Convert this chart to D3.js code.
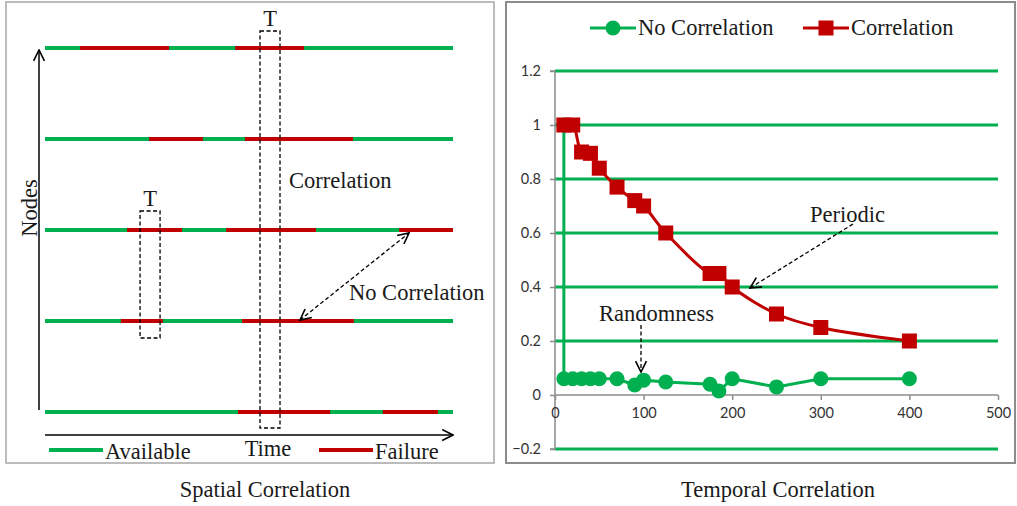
<!DOCTYPE html>
<html>
<head>
<meta charset="utf-8">
<script src="https://cdn.jsdelivr.net/npm/d3@7.9.0/dist/d3.min.js"></script>
<style>
  body { margin: 0; background: #fff; }
  svg { display: block; }
  .serif { font-family: "Liberation Serif", "Times New Roman", serif; font-size: 22.5px; fill: #1a1a1a; }
  .tick text { font-family: Lato, "Open Sans", sans-serif; font-size: 14.5px; fill: #333; }
</style>
</head>
<body>
<svg id="chart" width="1017" height="506"></svg>
<script>
// ---- left panel: node timelines (time in 0..100 units) ----
const nodes = [5, 4, 3, 2, 1];
const failures = [
  [[8.6, 30.4], [46.6, 63.5]],
  [[25.5, 38.7], [49, 75.5]],
  [[20.1, 33.6], [44.4, 66.4], [86.8, 100]],
  [[18.6, 28.9], [48.3, 75.7]],
  [[47.3, 69.9], [82.8, 96.3]]
];
const windowWide = [52.7, 57.6];
const windowSmall = [23.3, 28.2];

// ---- right panel: temporal correlation ----
const noCorrX = [10, 10, 20, 30, 40, 50, 70, 90, 100, 125, 175, 185, 200, 250, 300, 400];
const noCorrY = [1, 0.06, 0.06, 0.06, 0.06, 0.06, 0.06, 0.037, 0.055, 0.048, 0.04, 0.015, 0.06, 0.03, 0.06, 0.06];
const corrX = [10, 20, 30, 40, 50, 70, 90, 100, 125, 175, 185, 200, 250, 300, 400];
const corrY = [1, 1, 0.9, 0.895, 0.84, 0.77, 0.72, 0.70, 0.60, 0.45, 0.45, 0.40, 0.30, 0.25, 0.20];
const xTicks = [0, 100, 200, 300, 400, 500];
const yTicks = [-0.2, 0, 0.2, 0.4, 0.6, 0.8, 1, 1.2];

const GREEN = "#00b050", RED = "#c00000";
const svg = d3.select("#chart");

const defs = svg.append("defs");
defs.append("marker").attr("id", "chev").attr("viewBox", "0 0 12 12")
  .attr("refX", 11).attr("refY", 6).attr("markerWidth", 13).attr("markerHeight", 13)
  .attr("markerUnits", "userSpaceOnUse").attr("orient", "auto-start-reverse")
  .append("path").attr("d", "M1,1 L11,6 L1,11").attr("fill", "none")
  .attr("stroke", "#000").attr("stroke-width", 1.5);

// panel frames
svg.append("rect").attr("x", 6).attr("y", 2).attr("width", 488).attr("height", 461)
  .attr("fill", "none").attr("stroke", "#a6a6a6").attr("stroke-width", 1.5);
svg.append("rect").attr("x", 506).attr("y", 2).attr("width", 509).attr("height", 461)
  .attr("fill", "none").attr("stroke", "#8c8c8c").attr("stroke-width", 2);

// ---------- LEFT ----------
const t = d3.scaleLinear().domain([0, 100]).range([45, 453]);
const ny = d3.scalePoint().domain(nodes).range([48, 412]);
const L = svg.append("g");

nodes.forEach((n, i) => {
  L.append("line").attr("x1", t(0)).attr("x2", t(100)).attr("y1", ny(n)).attr("y2", ny(n))
    .attr("stroke", GREEN).attr("stroke-width", 4);
  failures[i].forEach(([a, b]) => {
    L.append("line").attr("x1", t(a)).attr("x2", t(b)).attr("y1", ny(n)).attr("y2", ny(n))
      .attr("stroke", RED).attr("stroke-width", 4);
  });
});

// axes arrows
L.append("line").attr("x1", 39).attr("x2", 39).attr("y1", 410).attr("y2", 50)
  .attr("stroke", "#000").attr("stroke-width", 1.5).attr("marker-end", "url(#chev)");
L.append("line").attr("x1", t(0)).attr("x2", t(100)).attr("y1", 435).attr("y2", 435)
  .attr("stroke", "#000").attr("stroke-width", 1.5).attr("marker-end", "url(#chev)");
L.append("text").attr("class", "serif")
  .attr("transform", "translate(37,208) rotate(-90)").attr("text-anchor", "middle").text("Nodes");
L.append("text").attr("class", "serif")
  .attr("x", 268).attr("y", 456).attr("text-anchor", "middle").text("Time");

// dashed windows
[[windowWide, 31, 428], [windowSmall, 211, 338]].forEach(([w, y0, y1]) => {
  L.append("rect").attr("x", t(w[0])).attr("y", y0).attr("width", t(w[1]) - t(w[0]))
    .attr("height", y1 - y0).attr("fill", "none").attr("stroke", "#000")
    .attr("stroke-width", 1.3).attr("stroke-dasharray", "4,2.5");
  L.append("text").attr("class", "serif")
    .attr("x", (t(w[0]) + t(w[1])) / 2).attr("y", y0 - 5).attr("text-anchor", "middle").text("T");
});

L.append("text").attr("class", "serif").attr("x", 289).attr("y", 188).text("Correlation");
L.append("text").attr("class", "serif").attr("x", 349).attr("y", 300).attr("fill", "#333").text("No Correlation");
L.append("line").attr("x1", 300).attr("y1", 320).attr("x2", 409).attr("y2", 233)
  .attr("stroke", "#000").attr("stroke-width", 1.3).attr("stroke-dasharray", "4,2.5")
  .attr("marker-start", "url(#chev)").attr("marker-end", "url(#chev)");

// legend
L.append("line").attr("x1", 49).attr("x2", 103).attr("y1", 450).attr("y2", 450)
  .attr("stroke", GREEN).attr("stroke-width", 4);
L.append("text").attr("class", "serif").attr("x", 105).attr("y", 459).text("Available");
L.append("line").attr("x1", 319).attr("x2", 373).attr("y1", 450).attr("y2", 450)
  .attr("stroke", RED).attr("stroke-width", 4);
L.append("text").attr("class", "serif").attr("x", 375).attr("y", 459).text("Failure");

svg.append("text").attr("class", "serif")
  .attr("x", 265).attr("y", 497).attr("text-anchor", "middle").text("Spatial Correlation");

// ---------- RIGHT ----------
const x = d3.scaleLinear().domain([0, 500]).range([555, 998]);
const y = d3.scaleLinear().domain([-0.2, 1.2]).range([449, 71]);
const R = svg.append("g");

R.selectAll(".grid").data(yTicks.filter(d => d !== 0)).join("line")
  .attr("x1", x(0)).attr("x2", x(500)).attr("y1", d => y(d)).attr("y2", d => y(d))
  .attr("stroke", GREEN).attr("stroke-width", 3);

const yAxis = R.append("g").attr("transform", `translate(${x(0)},0)`)
  .call(d3.axisLeft(y).tickValues(yTicks).tickSize(5).tickPadding(9).tickFormat(d3.format("")));
const xAxis = R.append("g").attr("transform", `translate(0,${y(0)})`)
  .call(d3.axisBottom(x).tickValues(xTicks).tickSize(5).tickPadding(8));
[yAxis, xAxis].forEach(a => {
  a.select(".domain").attr("stroke", "#8c8c8c").attr("stroke-width", 1.5);
  a.selectAll(".tick line").attr("stroke", "#8c8c8c").attr("stroke-width", 1.5);
});
yAxis.select(".domain").attr("d", `M-5,${y(-0.2)}H0V${y(1.2)}H-5`).attr("fill", "none");
xAxis.select(".domain").attr("d", `M${x(0)},0H${x(500)}`);

const noCorr = noCorrX.map((v, i) => [v, noCorrY[i]]);
const corr = corrX.map((v, i) => [v, corrY[i]]);

R.append("path").datum(noCorr).attr("fill", "none").attr("stroke", GREEN).attr("stroke-width", 3)
  .attr("d", d3.line().x(d => x(d[0])).y(d => y(d[1])));
R.selectAll(".nc").data(noCorr).join("circle")
  .attr("cx", d => x(d[0])).attr("cy", d => y(d[1])).attr("r", 7.5).attr("fill", GREEN);

R.append("path").datum(corr).attr("fill", "none").attr("stroke", RED).attr("stroke-width", 3)
  .attr("d", d3.line().x(d => x(d[0])).y(d => y(d[1])).curve(d3.curveCatmullRom.alpha(0.5)));
R.selectAll(".cr").data(corr).join("rect")
  .attr("x", d => x(d[0]) - 7.5).attr("y", d => y(d[1]) - 7.5).attr("width", 15).attr("height", 15)
  .attr("fill", RED);

// annotations
R.append("text").attr("class", "serif").attr("x", 810).attr("y", 222).text("Periodic");
R.append("line").attr("x1", 853).attr("y1", 224).attr("x2", 750).attr("y2", 288)
  .attr("stroke", "#000").attr("stroke-width", 1.3).attr("stroke-dasharray", "4,2.5")
  .attr("marker-end", "url(#chev)");
R.append("text").attr("class", "serif").attr("x", 599).attr("y", 321).text("Randomness");
R.append("line").attr("x1", 641).attr("y1", 325).attr("x2", 641).attr("y2", 372)
  .attr("stroke", "#000").attr("stroke-width", 1.3).attr("stroke-dasharray", "4,2.5")
  .attr("marker-end", "url(#chev)");

// legend
const lg = R.append("g");
lg.append("line").attr("x1", 590).attr("x2", 636).attr("y1", 28).attr("y2", 28)
  .attr("stroke", GREEN).attr("stroke-width", 3);
lg.append("circle").attr("cx", 613).attr("cy", 28).attr("r", 7.5).attr("fill", GREEN);
lg.append("text").attr("class", "serif").attr("x", 638).attr("y", 35).text("No Correlation");
lg.append("line").attr("x1", 803).attr("x2", 849).attr("y1", 28).attr("y2", 28)
  .attr("stroke", RED).attr("stroke-width", 3);
lg.append("rect").attr("x", 818.5).attr("y", 20.5).attr("width", 15).attr("height", 15).attr("fill", RED);
lg.append("text").attr("class", "serif").attr("x", 851).attr("y", 35).text("Correlation");

svg.append("text").attr("class", "serif")
  .attr("x", 778).attr("y", 497).attr("text-anchor", "middle").text("Temporal Correlation");
</script>
</body>
</html>
